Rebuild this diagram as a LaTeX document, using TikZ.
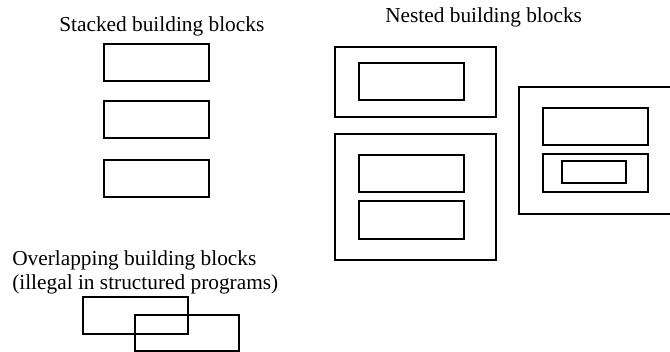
\documentclass[tikz,border=0pt]{standalone}
\usepackage{fontspec}
\setmainfont{Liberation Serif}
\begin{document}
\begin{tikzpicture}[x=0.75pt,y=-0.75pt,
  blk/.style={draw=black,line width=1.25pt},
  lbl/.style={anchor=base west,inner sep=0pt,font=\fontsize{16}{18}\selectfont}]
\useasboundingbox (0,0) rectangle (670,352);
\clip (0,0) rectangle (670,352);
% Stacked
\node[lbl] (stk) at (59,32) {Stacked building blocks};
\draw[blk] (104,44) rectangle (209,81);
\draw[blk] (104,101) rectangle (209,138);
\draw[blk] (104,160) rectangle (209,197);
% Nested
\node[lbl] (nst) at (385,23) {Nested building blocks};
\draw[blk] (335,47) rectangle (496,117);
\draw[blk] (359,63) rectangle (464,100);
\draw[blk] (335,134) rectangle (496,260);
\draw[blk] (359,155) rectangle (464,192);
\draw[blk] (359,201) rectangle (464,239);
\draw[blk] (519,87) rectangle (690,214);
\draw[blk] (543,108) rectangle (648,145);
\draw[blk] (543,154) rectangle (648,192);
\draw[blk] (562,161) rectangle (626,183);
% Overlapping
\node[lbl] (ovl1) at (12,266) {Overlapping building blocks};
\node[lbl] (ovl2) at (12,290) {(illegal in structured programs)};
\draw[blk] (83,297) rectangle (188,334);
\draw[blk] (135,315) rectangle (239,351);
\end{tikzpicture}
\end{document}
